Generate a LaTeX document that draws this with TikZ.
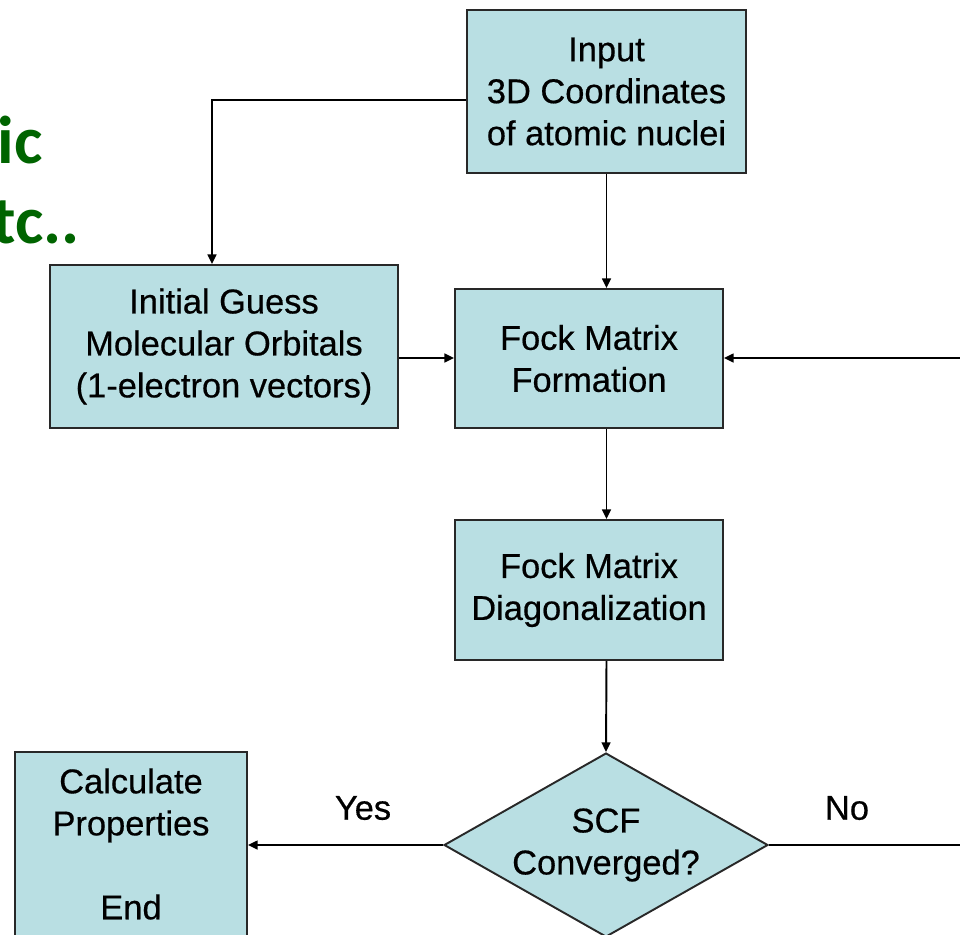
\documentclass[tikz,border=0pt]{standalone}
\usepackage{fontspec}
\setmainfont{Liberation Sans}
\newfontfamily\boxfont{Liberation Sans}[FakeBold=0.5]
\newfontfamily\greenfont{Carlito}
\usetikzlibrary{arrows.meta,shapes.geometric}
\definecolor{boxfill}{RGB}{185,223,227}
\definecolor{boxline}{RGB}{40,40,40}
\definecolor{dkgreen}{RGB}{0,100,0}
\tikzset{
  procbox/.style={draw=boxline, line width=1.1pt, fill=boxfill, align=center,
    inner sep=0pt, font=\boxfont\fontsize{19.6pt}{23.9pt}\selectfont},
  decbox/.style={draw=boxline, line width=1.1pt, fill=boxfill, shape=diamond,
    inner sep=0pt, minimum width=6.48cm, minimum height=3.68cm},
  flow/.style={draw=black, line width=1.1pt, -{Triangle[length=5.5pt,width=5pt]}},
  plainline/.style={draw=black, line width=1.1pt},
  lbl/.style={font=\boxfont\fontsize{19.6pt}{23.9pt}\selectfont, inner sep=0pt, align=center},
  greentext/.style={font=\greenfont\bfseries\fontsize{38.5pt}{46pt}\selectfont, text=dkgreen, inner sep=0pt}
}
\begin{document}
\begin{tikzpicture}[x=0.02cm, y=-0.02cm]
\useasboundingbox (0,0) rectangle (960,934);

% partially visible green text on the left
\node[greentext, anchor=base east] (g1) at (43,163) {ic};
\node[greentext, anchor=base east] (g2) at (80,243) {tc..};

% boxes
\node[procbox, minimum width=5.58cm, minimum height=3.26cm] (in) at (606.5,91.5)
  {Input\\3D Coordinates\\of atomic nuclei};
\node[procbox, minimum width=6.96cm, minimum height=3.26cm] (guess) at (224,346.5)
  {Initial Guess\\Molecular Orbitals\\(1-electron vectors)};
\node[procbox, minimum width=5.36cm, minimum height=2.78cm] (form) at (589,358.5)
  {Fock Matrix\\Formation};
\node[procbox, minimum width=5.36cm, minimum height=2.80cm] (diag) at (589,590)
  {Fock Matrix\\Diagonalization};
\node[decbox] (scf) at (606,845) {};
\node[lbl] (scftext) at (606,845) {SCF\\Converged?};
\node[procbox, minimum width=4.64cm, minimum height=3.68cm] (calc) at (131,844)
  {Calculate\\Properties\\~\\End};

% labels
\node[lbl] (yes) at (363,808) {Yes};
\node[lbl] (no) at (847,808) {No};

% free ends at the right margin
\coordinate (rtop) at (962,358);
\coordinate (rbot) at (962,845);
\coordinate (inleft) at (212,100);

% connectors
\draw[flow] (in.west |- inleft) -- (inleft) -- (guess.north -| inleft);
\draw[flow] (in.south) -- (in.south |- form.north);
\draw[flow] (guess.east |- 0,358) -- (form.west |- 0,358);
\draw[flow] (rtop) -- (form.east |- rtop);
\draw[flow] (in.south |- form.south) -- (in.south |- diag.north);
\draw[flow] (in.south |- diag.south) -- (scf.north);
\draw[flow] (scf.west) -- (calc.east |- scf.west);
\draw[plainline] (scf.east) -- (rbot);
\end{tikzpicture}
\end{document}
